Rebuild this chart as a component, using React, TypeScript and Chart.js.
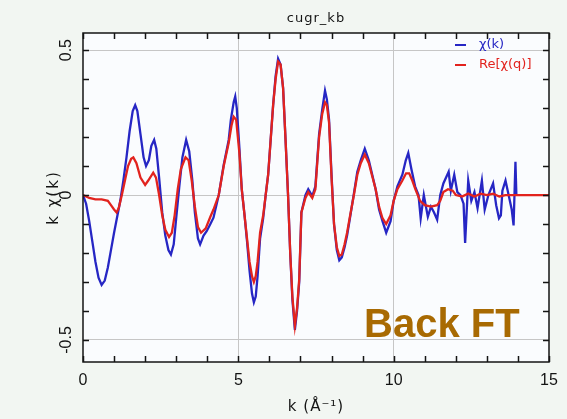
import { useEffect, useRef } from 'react';
import { Chart, registerables } from 'chart.js';

Chart.register(...registerables);

// Titles and labels
const chartTitle = 'cugr_kb';
const xAxisTitle = 'k (Å⁻¹)';
const yAxisTitle = 'k χ(k)';
const seriesNames = ['χ(k)', 'Re[χ(q)]'];
const noteText = 'Back FT';

// χ(k) measured, k in Å⁻¹
const kChi = [
  0, 0.1, 0.2, 0.3, 0.4, 0.5, 0.6, 0.7, 0.8, 0.9, 1.0, 1.1, 1.2, 1.3, 1.4, 1.5, 1.6, 1.68, 1.75, 1.85,
  1.95, 2.03, 2.12, 2.2, 2.29, 2.36, 2.45, 2.55, 2.65, 2.75, 2.83, 2.92, 3.0, 3.1, 3.2, 3.32, 3.42, 3.52, 3.6, 3.7,
  3.77, 3.88, 3.98, 4.1, 4.2, 4.37, 4.53, 4.69, 4.76, 4.85, 4.9, 4.95, 5.03, 5.11, 5.2, 5.28, 5.36, 5.44, 5.5, 5.56,
  5.62, 5.7, 5.8, 5.88, 5.96, 6.04, 6.12, 6.2, 6.28, 6.36, 6.44, 6.52, 6.6, 6.67, 6.74, 6.82, 6.89, 6.96, 7.03, 7.16,
  7.25, 7.38, 7.48, 7.54, 7.6, 7.7, 7.79, 7.85, 7.92, 8.0, 8.08, 8.17, 8.25, 8.33, 8.42, 8.5, 8.6, 8.72, 8.83, 8.94,
  9.07, 9.2, 9.31, 9.42, 9.53, 9.64, 9.76, 9.9, 10.0, 10.12, 10.28, 10.39, 10.47, 10.57, 10.69, 10.8, 10.87, 10.97, 11.1, 11.2,
  11.3, 11.4, 11.5, 11.6, 11.77, 11.84, 11.95, 12.05, 12.15, 12.25, 12.3, 12.4, 12.5, 12.6, 12.7, 12.84, 12.93, 13.05, 13.2, 13.3,
  13.39, 13.45, 13.5, 13.6, 13.7, 13.8, 13.86, 13.92, 13.95,
];
const chiK = [
  0, -0.03, -0.09, -0.16, -0.23, -0.285, -0.31, -0.295, -0.25, -0.19, -0.13, -0.075, -0.02, 0.05, 0.13, 0.22, 0.29, 0.31, 0.29, 0.21,
  0.13, 0.1, 0.12, 0.17, 0.19, 0.16, 0.06, -0.06, -0.14, -0.19, -0.205, -0.17, -0.08, 0.03, 0.13, 0.19, 0.15, 0.05, -0.06, -0.15,
  -0.17, -0.14, -0.125, -0.1, -0.078, 0.0, 0.105, 0.19, 0.26, 0.32, 0.34, 0.3, 0.17, 0.02, -0.07, -0.16, -0.26, -0.34, -0.37, -0.35,
  -0.28, -0.15, -0.08, 0.0, 0.07, 0.19, 0.31, 0.41, 0.47, 0.45, 0.37, 0.19, 0.0, -0.2, -0.36, -0.465, -0.4, -0.3, -0.06, 0.0,
  0.02, -0.004, 0.03, 0.12, 0.21, 0.295, 0.36, 0.33, 0.26, 0.07, -0.1, -0.19, -0.225, -0.215, -0.18, -0.14, -0.075, 0.005, 0.08, 0.12,
  0.16, 0.12, 0.07, 0.02, -0.05, -0.09, -0.13, -0.09, -0.02, 0.03, 0.07, 0.12, 0.145, 0.09, 0.03, 0.0, -0.08, 0.0, -0.075, -0.04,
  -0.06, -0.085, 0.0, 0.04, 0.08, 0.015, 0.07, 0.01, 0.0, -0.03, -0.165, 0.05, -0.02, 0.01, -0.045, 0.05, -0.05, 0.0, 0.04, -0.035,
  -0.08, -0.07, 0.015, 0.05, 0.0, -0.05, -0.105, 0.115, 0.0,
];

// Re[χ(q)] from the back transform
const kBack = [
  0, 0.2, 0.4, 0.6, 0.8, 0.9, 1.0, 1.08, 1.15, 1.25, 1.35, 1.45, 1.55, 1.62, 1.72, 1.85, 2.0, 2.1, 2.26, 2.35,
  2.45, 2.55, 2.65, 2.77, 2.86, 2.95, 3.05, 3.15, 3.3, 3.4, 3.5, 3.6, 3.7, 3.8, 3.95, 4.1, 4.2, 4.37, 4.53, 4.69,
  4.78, 4.85, 4.93, 5.03, 5.11, 5.2, 5.28, 5.36, 5.44, 5.5, 5.56, 5.62, 5.7, 5.8, 5.88, 5.96, 6.04, 6.12, 6.2, 6.28,
  6.36, 6.44, 6.52, 6.6, 6.67, 6.74, 6.82, 6.89, 6.96, 7.03, 7.16, 7.25, 7.38, 7.48, 7.54, 7.6, 7.7, 7.79, 7.85, 7.92,
  8.0, 8.08, 8.17, 8.25, 8.33, 8.42, 8.5, 8.6, 8.72, 8.83, 8.94, 9.07, 9.2, 9.31, 9.42, 9.53, 9.64, 9.76, 9.9, 10.0,
  10.12, 10.28, 10.4, 10.5, 10.6, 10.7, 10.85, 11.0, 11.2, 11.4, 11.5, 11.6, 11.75, 11.9, 12.0, 12.2, 12.4, 12.6, 12.8, 13.0,
  13.2, 13.4, 13.6, 13.8, 14.0, 15.0,
];
const chiBack = [
  0, -0.01, -0.015, -0.015, -0.02, -0.035, -0.05, -0.06, -0.045, 0.0, 0.05, 0.1, 0.125, 0.13, 0.11, 0.06, 0.035, 0.05, 0.077, 0.06,
  0.0, -0.07, -0.12, -0.145, -0.13, -0.07, 0.02, 0.09, 0.13, 0.12, 0.05, -0.04, -0.11, -0.13, -0.115, -0.075, -0.05, 0.0, 0.1, 0.18,
  0.24, 0.27, 0.26, 0.15, 0.02, -0.07, -0.15, -0.23, -0.28, -0.3, -0.28, -0.23, -0.13, -0.07, 0.0, 0.07, 0.19, 0.31, 0.4, 0.46,
  0.45, 0.37, 0.19, 0.0, -0.2, -0.35, -0.45, -0.39, -0.29, -0.06, -0.01, 0.01, -0.01, 0.02, 0.11, 0.2, 0.28, 0.32, 0.31, 0.25,
  0.06, -0.1, -0.18, -0.21, -0.205, -0.17, -0.13, -0.07, 0.0, 0.07, 0.11, 0.14, 0.11, 0.065, 0.02, -0.04, -0.08, -0.1, -0.07, -0.02,
  0.02, 0.05, 0.075, 0.075, 0.05, 0.02, -0.02, -0.035, -0.04, -0.035, -0.02, 0.01, 0.02, 0.015, 0.0, -0.005, 0.005, -0.005, 0.005, 0.0,
  0.005, -0.005, 0.0, 0.0, 0.0, 0.0,
];

// Axis ranges and labelled ticks
const kMin = 0;
const kMax = 15;
const chiMin = -0.576;
const chiMax = 0.559;
const xTickValues = [0, 5, 10, 15];
const xTickLabels = ['0', '5', '10', '15'];
const yTickValues = [-0.5, 0, 0.5];
const yTickLabels = ['-0.5', '0', '0.5'];

const BLUE = '#2626c4';
const RED = '#e2231e';
const GRID = '#c6c6c6';
const INK = '#141414';

const isMultiple = (v: number, step: number) => Math.abs(v / step - Math.round(v / step)) < 1e-6;

const framePlugin = {
  id: 'frame',
  beforeDraw(chart: any) {
    const { ctx, chartArea: a, width, height } = chart;
    ctx.save();
    ctx.fillStyle = '#f2f6f2';
    ctx.fillRect(0, 0, width, height);
    ctx.fillStyle = '#fafcfe';
    ctx.fillRect(a.left, a.top, a.right - a.left, a.bottom - a.top);
    ctx.restore();
  },
  afterDraw(chart: any) {
    const { ctx, chartArea: a } = chart;
    const xs = chart.scales.x;
    const ys = chart.scales.y;
    ctx.save();

    // box
    ctx.strokeStyle = INK;
    ctx.lineWidth = 1.5;
    ctx.strokeRect(a.left, a.top, a.right - a.left, a.bottom - a.top);

    // inward ticks
    ctx.lineWidth = 1.5;
    ctx.beginPath();
    xs.ticks.forEach((t: any) => {
      const px = Math.round(xs.getPixelForValue(t.value)) + 0.5;
      ctx.moveTo(px, a.bottom);
      ctx.lineTo(px, a.bottom - 6);
      ctx.moveTo(px, a.top);
      ctx.lineTo(px, a.top + 6);
    });
    ys.ticks.forEach((t: any) => {
      if (Math.abs(t.value) > 0.5 + 1e-9) return;
      const py = Math.round(ys.getPixelForValue(t.value)) + 0.5;
      ctx.moveTo(a.left, py);
      ctx.lineTo(a.left + 6, py);
      ctx.moveTo(a.right, py);
      ctx.lineTo(a.right - 6, py);
    });
    ctx.stroke();

    // tick labels
    ctx.fillStyle = INK;
    ctx.font = '16px "Liberation Sans", Arial, sans-serif';
    ctx.textAlign = 'center';
    ctx.textBaseline = 'middle';
    xTickValues.forEach((v, i) => {
      ctx.fillText(xTickLabels[i], xs.getPixelForValue(v), a.bottom + 19);
    });
    yTickValues.forEach((v, i) => {
      ctx.save();
      ctx.translate(a.left - 16, ys.getPixelForValue(v));
      ctx.rotate(-Math.PI / 2);
      ctx.fillText(yTickLabels[i], 0, 0);
      ctx.restore();
    });

    // axis titles
    ctx.font = '15px "DejaVu Sans", sans-serif';
    (ctx as any).letterSpacing = '1px';
    ctx.fillText(xAxisTitle, (a.left + a.right) / 2, a.bottom + 45);
    ctx.save();
    ctx.translate(a.left - 29, (a.top + a.bottom) / 2);
    ctx.rotate(-Math.PI / 2);
    (ctx as any).letterSpacing = '2px';
    ctx.fillText(yAxisTitle, 0, 0);
    ctx.restore();

    // chart title
    ctx.font = '13px "DejaVu Sans", sans-serif';
    (ctx as any).letterSpacing = '1px';
    ctx.fillText(chartTitle, (a.left + a.right) / 2, 19);
    (ctx as any).letterSpacing = '0px';

    // legend
    const colors = [BLUE, RED];
    ctx.font = '13px "DejaVu Sans", sans-serif';
    ctx.textAlign = 'left';
    seriesNames.forEach((name, i) => {
      const y = a.top + 12 + i * 20;
      ctx.strokeStyle = colors[i];
      ctx.lineWidth = 2;
      ctx.beginPath();
      ctx.moveTo(a.right - 94, y);
      ctx.lineTo(a.right - 83, y);
      ctx.stroke();
      ctx.fillStyle = colors[i];
      ctx.fillText(name, a.right - 70, y);
    });

    // note
    ctx.font = 'bold 40px "Liberation Sans", Arial, sans-serif';
    ctx.fillStyle = '#a86a02';
    ctx.textBaseline = 'alphabetic';
    ctx.fillText(noteText, 364, 337);

    ctx.restore();
  },
};

export default function App() {
  const canvasRef = useRef<HTMLCanvasElement>(null);

  useEffect(() => {
    const canvas = canvasRef.current;
    if (!canvas) return;
    const chart = new Chart(canvas, {
      type: 'line',
      data: {
        datasets: [
          {
            label: seriesNames[0],
            data: kChi.map((k, i) => ({ x: k, y: chiK[i] })),
            borderColor: BLUE,
            borderWidth: 2.3,
            pointRadius: 0,
            tension: 0,
            order: 1,
          },
          {
            label: seriesNames[1],
            data: kBack.map((k, i) => ({ x: k, y: chiBack[i] })),
            borderColor: RED,
            borderWidth: 2.3,
            pointRadius: 0,
            tension: 0,
            order: 0,
          },
        ],
      },
      options: {
        animation: false,
        responsive: false,
        events: [],
        layout: { padding: { left: 83, top: 33, right: 18, bottom: 57 } },
        plugins: {
          legend: { display: false },
          title: { display: false },
          tooltip: { enabled: false },
        },
        scales: {
          x: {
            type: 'linear',
            min: kMin,
            max: kMax,
            ticks: { display: false, stepSize: 1, maxTicksLimit: 20 },
            grid: {
              drawTicks: false,
              lineWidth: 1,
              color: (c: any) =>
                c.tick && isMultiple(c.tick.value, 5) && c.tick.value > kMin && c.tick.value < kMax ? GRID : 'rgba(0,0,0,0)',
            },
            border: { display: false },
          },
          y: {
            type: 'linear',
            min: chiMin,
            max: chiMax,
            ticks: { display: false, stepSize: 0.1, maxTicksLimit: 20, includeBounds: false },
            grid: {
              drawTicks: false,
              lineWidth: 1,
              color: (c: any) =>
                c.tick && isMultiple(c.tick.value, 0.5) && Math.abs(c.tick.value) <= 0.5 + 1e-9 ? GRID : 'rgba(0,0,0,0)',
            },
            border: { display: false },
          },
        },
      },
      plugins: [framePlugin],
    });
    return () => chart.destroy();
  }, []);

  return (
    <div style={{ position: 'fixed', left: 0, top: 0, width: 567, height: 419 }}>
      <canvas ref={canvasRef} width={567} height={419} style={{ display: 'block', width: 567, height: 419 }} />
    </div>
  );
}
